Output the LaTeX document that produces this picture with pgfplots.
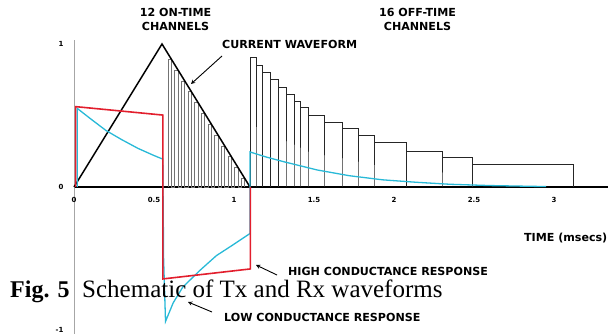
\documentclass[border=0pt]{standalone}
\usepackage{pgfplots}
\pgfplotsset{compat=1.18}
\usepackage{fontspec}
\setmainfont{DejaVu Sans}
\newfontfamily\capfont{Liberation Serif}
\definecolor{cred}{RGB}{226,30,45}
\definecolor{ccyan}{RGB}{40,185,215}
\begin{document}
\begin{tikzpicture}
\path[use as bounding box] (0,0) rectangle (608pt,334pt);
\begin{axis}[
  at={(74pt,147pt)}, anchor=origin,
  x=160pt, y=143pt,
  xmin=0, xmax=3.3375, ymin=-1.028, ymax=1.03,
  axis x line=middle, axis y line=left,
  x axis line style={-, black, line width=1.6pt},
  y axis line style={-, black!35, line width=0.8pt},
  xtick={0,0.5,1,1.5,2,2.5,3},
  ytick={-1,0,1},
  major tick length=0pt,
  hide obscured x ticks=false, hide obscured y ticks=false,
  tick label style={font=\fontsize{7}{8}\selectfont\bfseries},
  /pgf/number format/assume math mode=true,
  xticklabel style={yshift=-7pt},
  yticklabel style={xshift=-7pt},
  clip=false,
]
% 12 on-time channels
\addplot[black!55, line width=0.6pt] coordinates {
(0.5875,0)(0.5875,0.894)(0.6083,0.894)(0.6083,0)
(0.6292,0)(0.6292,0.818)(0.65,0.818)(0.65,0)
(0.6708,0)(0.6708,0.742)(0.6917,0.742)(0.6917,0)
(0.7125,0)(0.7125,0.667)(0.7333,0.667)(0.7333,0)
(0.7542,0)(0.7542,0.591)(0.775,0.591)(0.775,0)
(0.7958,0)(0.7958,0.515)(0.8167,0.515)(0.8167,0)
(0.8375,0)(0.8375,0.439)(0.8583,0.439)(0.8583,0)
(0.8792,0)(0.8792,0.364)(0.9,0.364)(0.9,0)
(0.9208,0)(0.9208,0.288)(0.9417,0.288)(0.9417,0)
(0.9625,0)(0.9625,0.212)(0.9833,0.212)(0.9833,0)
(1.0042,0)(1.0042,0.136)(1.025,0.136)(1.025,0)
(1.0458,0)(1.0458,0.061)(1.0667,0.061)(1.0667,0)
};
% 16 off-time channels
\addplot[black!85, line width=1pt] coordinates {
(1.1,0)(1.1,.907)(1.1375,.907)(1.1375,0)(1.1375,.853)(1.181,.853)(1.181,0)
(1.181,.802)(1.231,.802)(1.231,0)(1.231,.753)(1.281,.753)(1.281,0)
(1.281,.697)(1.325,.697)(1.325,0)(1.325,.648)(1.375,.648)(1.375,0)
(1.375,.597)(1.4125,.597)(1.4125,0)(1.4125,.555)(1.4625,.555)(1.4625,0)
(1.4625,.503)(1.5625,.503)(1.5625,0)(1.5625,.452)(1.675,.452)(1.675,0)
(1.675,.406)(1.775,.406)(1.775,0)(1.775,.357)(1.875,.357)(1.875,0)
(1.875,.310)(2.08,.310)(2.08,0)(2.08,.247)(2.30,.247)(2.30,0)
(2.30,.205)(2.49,.205)(2.49,0)(2.49,.156)(3.12,.156)(3.12,0)
};
% current waveform
\addplot[black, line width=1.5pt] coordinates {(0,0)(0.55,1)(1.1,0)};
% low conductance response
\addplot[ccyan, line width=1.3pt] coordinates {
(0.02,0)(0.02,0.55)(0.1,0.48)(0.2,0.395)(0.3,0.33)(0.4,0.27)(0.5,0.22)(0.555,0.195)
(0.56,-0.5)(0.572,-0.94)(0.62,-0.81)(0.68,-0.70)(0.79,-0.58)(0.89,-0.48)(1.0,-0.40)(1.1,-0.325)
(1.1,0.245)(1.2,0.21)(1.31,0.177)(1.52,0.119)(1.72,0.079)(1.93,0.05)(2.14,0.033)(2.35,0.019)(2.6,0.01)(2.95,0.003)
};
% high conductance response
\addplot[cred, line width=1.6pt] coordinates {
(0.01,0)(0.01,0.562)(0.555,0.503)(0.555,-0.643)(1.102,-0.573)(1.102,0)
};
\end{axis}
\begin{scope}[font=\fontsize{11.1}{14.5}\selectfont\bfseries]
\node[align=center] at (175.5pt,314.3pt) {12 ON-TIME\\CHANNELS};
\node[align=center] at (417.5pt,314.5pt) {16 OFF-TIME\\CHANNELS};
\node[anchor=west, inner sep=0pt] at (222pt,289.5pt) {CURRENT WAVEFORM};
\node[anchor=east, inner sep=0pt] at (607.5pt,96pt) {TIME (msecs)};
\node[anchor=west, inner sep=0pt] at (288pt,63pt) {HIGH CONDUCTANCE RESPONSE};
\node[anchor=west, inner sep=0pt] at (224pt,17pt) {LOW CONDUCTANCE RESPONSE};
\end{scope}
\draw[-stealth, line width=0.9pt] (277pt,59pt) -- (256pt,69pt);
\draw[-stealth, line width=0.9pt] (222pt,278pt) -- (191pt,250pt);
\draw[-stealth, line width=0.9pt] (212pt,22pt) -- (188pt,32pt);
\node[anchor=base west, inner sep=0pt, font=\capfont\fontsize{24}{28}\selectfont\bfseries] at (10pt,36pt) {Fig. 5};
\node[anchor=base west, inner sep=0pt, font=\capfont\fontsize{25}{28}\selectfont] at (82pt,36pt) {Schematic of Tx and Rx waveforms};
\end{tikzpicture}
\end{document}
